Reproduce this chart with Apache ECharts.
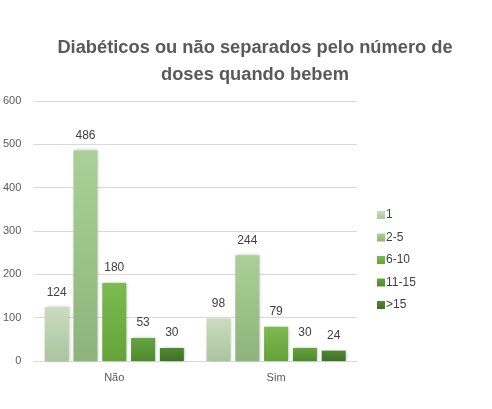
<!DOCTYPE html>
<html>
<head>
<meta charset="utf-8">
<script src="https://cdn.jsdelivr.net/npm/echarts@6/dist/echarts.min.js"></script>
<style>
  html, body { margin: 0; padding: 0; background: #ffffff; }
  #main { width: 492px; height: 409px; }
</style>
</head>
<body>
<div id="main"></div>
<script>
// dados
var categorias = ['Não', 'Sim']
var series1 = [124, 98]
var series2a5 = [486, 244]
var series6a10 = [180, 79]
var series11a15 = [53, 30]
var series15mais = [30, 24]
var nomes = ['1', '2-5', '6-10', '11-15', '>15']

var cores = [
  ['#cadcc0', '#aac59d'],
  ['#abd097', '#8db47c'],
  ['#7dbb52', '#64a338'],
  ['#64a33e', '#4f8a2d'],
  ['#518a32', '#3f6f24']
]
var coresLegenda = ['#c5dbb9', '#a9d08e', '#70ad47', '#5b9b3a', '#4e7d30']

function grad(c) {
  return new echarts.graphic.LinearGradient(0, 0, 0, 1, [
    { offset: 0, color: c[0] },
    { offset: 1, color: c[1] }
  ])
}

var dados = [series1, series2a5, series6a10, series11a15, series15mais]
var chart = echarts.init(document.getElementById('main'))
var option = {
  animation: false,
  color: coresLegenda,
  title: {
    text: 'Diabéticos ou não separados pelo número de\ndoses quando bebem',
    left: 250,
    textAlign: 'center',
    top: 29,
    textStyle: {
      fontFamily: 'Liberation Sans',
      fontSize: 18.3,
      fontWeight: 'bold',
      color: '#595959',
      lineHeight: 27
    }
  },
  legend: {
    orient: 'vertical',
    left: 372,
    top: 204,
    itemWidth: 8,
    itemHeight: 8,
    itemGap: 10.5,
    icon: 'rect',
    data: nomes,
    textStyle: { fontFamily: 'Liberation Sans', fontSize: 12, color: '#404040', padding: [0, 0, 0, -4] }
  },
  grid: { left: 33, right: 135, top: 101, bottom: 48 },
  xAxis: {
    type: 'category',
    data: categorias,
    axisLine: { lineStyle: { color: '#d9d9d9' } },
    axisTick: { show: false },
    axisLabel: { fontFamily: 'Liberation Sans', fontSize: 11, color: '#595959', margin: 11 }
  },
  yAxis: {
    type: 'value',
    min: 0,
    max: 600,
    interval: 100,
    axisLine: { show: false },
    axisTick: { show: false },
    splitLine: { lineStyle: { color: '#d9d9d9' } },
    axisLabel: { fontFamily: 'Liberation Sans', fontSize: 11, color: '#595959', margin: 12 }
  },
  series: []
}
for (var i = 0; i < nomes.length; i++) {
  option.series.push({
    name: nomes[i],
    type: 'bar',
    data: dados[i],
    barGap: '20%',
    barCategoryGap: '14%',
    itemStyle: {
      color: grad(cores[i]),
      shadowColor: 'rgba(0,0,0,0.25)',
      shadowBlur: 3,
      shadowOffsetX: 1
    },
    label: {
      show: true,
      position: 'top',
      distance: 9,
      fontFamily: 'Liberation Sans',
      fontSize: 12,
      color: '#404040'
    }
  })
}
chart.setOption(option)
</script>
</body>
</html>
